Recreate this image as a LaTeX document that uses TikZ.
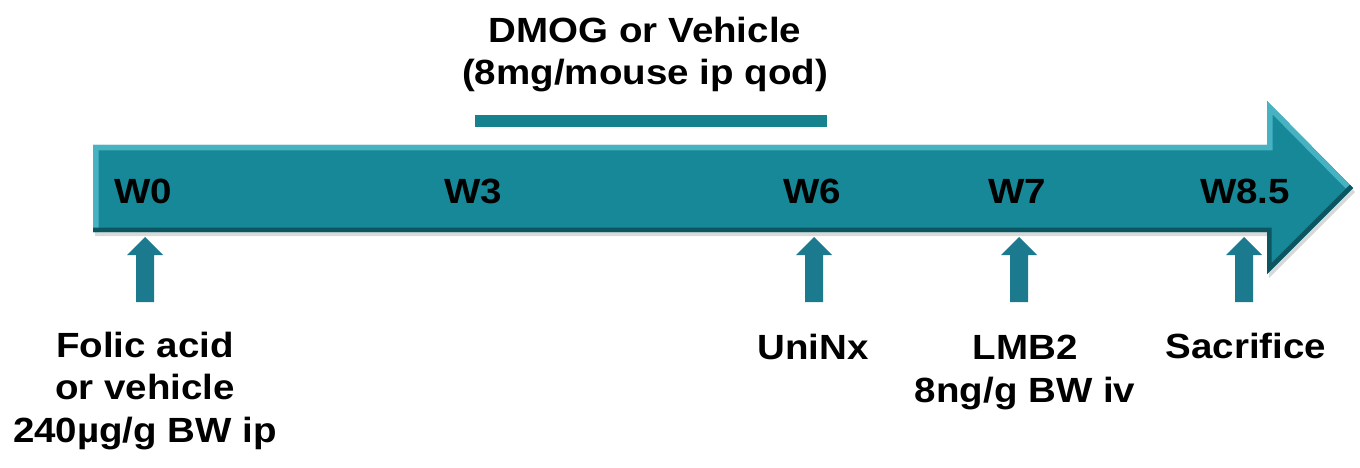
\documentclass[tikz,border=0pt]{standalone}
\usepackage{fontspec}
\setmainfont{Liberation Sans}[FakeStretch=1.1]
\definecolor{tmain}{RGB}{22,136,152}
\definecolor{tlight}{RGB}{70,178,194}
\definecolor{tdark}{RGB}{12,86,98}
\definecolor{tsmall}{RGB}{28,122,142}
\definecolor{tbar}{RGB}{22,130,142}
\begin{document}
\begin{tikzpicture}[x=1pt,y=-1pt,
  lbl/.style={font=\fontsize{35}{42.5}\selectfont\bfseries, inner sep=0pt, align=center, text=black},
  upark/.style={fill=tsmall}]
\useasboundingbox (0,0) rectangle (1360,468);
% shadow of main arrow
\fill[black, opacity=0.15, shift={(2,4)}] (93,145) -- (1267,145) -- (1267,101) -- (1353,188) -- (1267,274) -- (1267,232) -- (93,232) -- cycle;
% main arrow with bevel
\begin{scope}
\clip (93,145) -- (1267,145) -- (1267,101) -- (1353,188) -- (1267,274) -- (1267,232) -- (93,232) -- cycle;
\fill[tmain] (0,0) rectangle (1360,468);
\draw[tlight, line width=11, line join=miter] (93,240) -- (93,145) -- (1267,145) -- (1267,101) -- (1353,188);
\draw[tdark, line width=9, line join=miter] (1353,188) -- (1267,274) -- (1267,232) -- (80,232);
\end{scope}
% treatment bar
\fill[tbar] (475,115) rectangle (827,127);
% small up arrows
\foreach \c in {145,814,1019,1244}
  \fill[upark] (\c-9,302) -- (\c-9,255) -- (\c-18,255) -- (\c,237) -- (\c+18,255) -- (\c+9,255) -- (\c+9,302) -- cycle;
% labels
\node[lbl, anchor=base] (dmog) at (645,85) {DMOG or Vehicle\\(8mg/mouse ip qod)};
\node[lbl, anchor=base] (w0) at (143.5,203) {W0};
\node[lbl, anchor=base] (w3) at (473,203) {W3};
\node[lbl, anchor=base] (w6) at (812,203) {W6};
\node[lbl, anchor=base] (w7) at (1017,203) {W7};
\node[lbl, anchor=base] (w85) at (1245,203) {W8.5};
\node[lbl, anchor=base] (folic) at (145,442) {Folic acid\\or vehicle\\240µg/g BW ip};
\node[lbl, anchor=base] (uninx) at (813,359) {UniNx};
\node[lbl, anchor=base] (lmb) at (1025,402) {LMB2\\8ng/g BW iv};
\node[lbl, anchor=base] (sac) at (1246,358) {Sacrifice};
\end{tikzpicture}
\end{document}
